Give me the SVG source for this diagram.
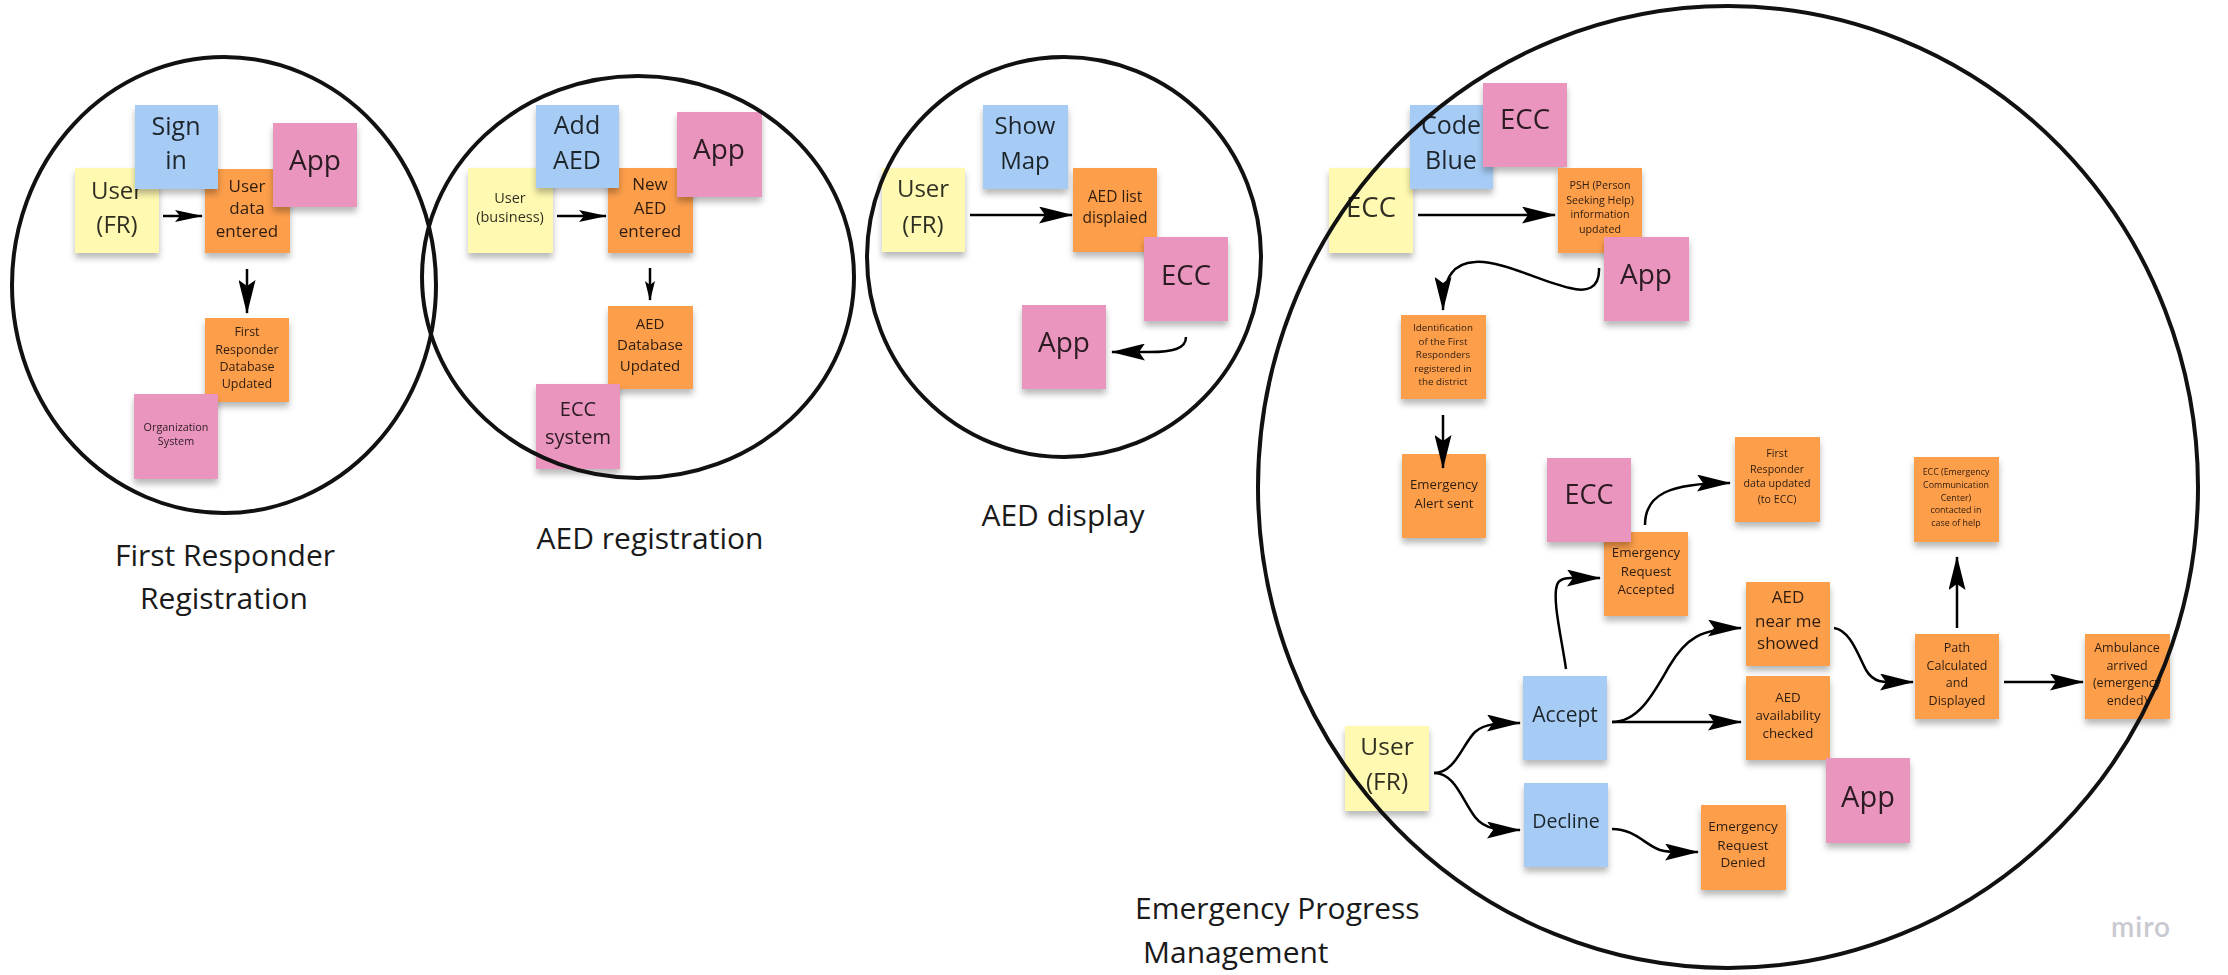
<svg xmlns="http://www.w3.org/2000/svg" width="2228" height="975" viewBox="0 0 2228 975">
<defs>
<style>
.st{stroke:none}
.y{fill:#fff9b1}.b{fill:#a6ccf5}.o{fill:#fd9e4c}.p{fill:#ea95bd}
text{font-family:"Open Sans","Liberation Sans",sans-serif;text-anchor:middle;fill:#000;fill-opacity:0.82}
.lbl{font-size:30px;fill:#1a1a1a;fill-opacity:1}
.ring{fill:none;stroke:#111;stroke-width:4}
.c{fill:none;stroke:#000;stroke-width:2.5}
</style>
<filter id="sh" x="-10%" y="-10%" width="120%" height="130%">
<feDropShadow dx="0" dy="5" stdDeviation="3" flood-color="#000" flood-opacity="0.28"/>
</filter>
<marker id="ab" markerUnits="userSpaceOnUse" markerWidth="34" markerHeight="17" refX="33" refY="8.5" orient="auto">
<path d="M0,0 L34,8.5 L0,17 L6,8.5 Z" fill="#000"/>
</marker>
<marker id="am" markerUnits="userSpaceOnUse" markerWidth="28" markerHeight="12" refX="27" refY="6" orient="auto">
<path d="M0,0 L28,6 L0,12 L5,6 Z" fill="#000"/>
</marker>
<marker id="as" markerUnits="userSpaceOnUse" markerWidth="20" markerHeight="10" refX="19" refY="5" orient="auto">
<path d="M0,0 L20,5 L0,10 L4,5 Z" fill="#000"/>
</marker>
</defs>
<rect width="2228" height="975" fill="#fff"/>

<!-- First Responder Registration -->
<g id="fr_user" filter="url(#sh)"><rect class="y" x="75" y="168" width="84" height="85"/><text x="117" y="199" font-size="24">User</text><text x="117" y="233" font-size="24">(FR)</text></g>
<g id="fr_data" filter="url(#sh)"><rect class="o" x="205" y="169" width="85" height="84"/><text x="247" y="192" font-size="17">User</text><text x="247" y="214" font-size="17">data</text><text x="247" y="237" font-size="17">entered</text></g>
<g id="fr_signin" filter="url(#sh)"><rect class="b" x="135" y="105" width="83" height="84"/><text x="176" y="135" font-size="25">Sign</text><text x="176" y="169" font-size="25">in</text></g>
<g id="fr_app" filter="url(#sh)"><rect class="p" x="273" y="123" width="84" height="84"/><text x="315" y="170" font-size="28">App</text></g>
<g id="fr_db" filter="url(#sh)"><rect class="o" x="205" y="318" width="84" height="84"/><text x="247" y="336" font-size="12.5">First</text><text x="247" y="354" font-size="12.5">Responder</text><text x="247" y="371" font-size="12.5">Database</text><text x="247" y="388" font-size="12.5">Updated</text></g>
<g id="fr_org" filter="url(#sh)"><rect class="p" x="134" y="394" width="84" height="85"/><text x="176" y="431" font-size="10.8">Organization</text><text x="176" y="445" font-size="10.8">System</text></g>

<!-- AED registration -->
<g id="aed_user" filter="url(#sh)"><rect class="y" x="468" y="168" width="85" height="85"/><text x="510" y="203" font-size="14.5">User</text><text x="510" y="222" font-size="14.5">(business)</text></g>
<g id="aed_new" filter="url(#sh)"><rect class="o" x="608" y="168" width="85" height="85"/><text x="650" y="190" font-size="17">New</text><text x="650" y="214" font-size="17">AED</text><text x="650" y="237" font-size="17">entered</text></g>
<g id="aed_add" filter="url(#sh)"><rect class="b" x="536" y="105" width="83" height="83"/><text x="577" y="134" font-size="25">Add</text><text x="577" y="169" font-size="25">AED</text></g>
<g id="aed_app" filter="url(#sh)"><rect class="p" x="677" y="112" width="85" height="85"/><text x="719" y="159" font-size="28">App</text></g>
<g id="aed_db" filter="url(#sh)"><rect class="o" x="608" y="306" width="85" height="83"/><text x="650" y="329" font-size="15">AED</text><text x="650" y="350" font-size="15">Database</text><text x="650" y="371" font-size="15">Updated</text></g>
<g id="aed_ecc" filter="url(#sh)"><rect class="p" x="536" y="384" width="84" height="85"/><text x="578" y="416" font-size="20">ECC</text><text x="578" y="444" font-size="20">system</text></g>

<!-- AED display -->
<g id="disp_user" filter="url(#sh)"><rect class="y" x="882" y="168" width="83" height="84"/><text x="923" y="197" font-size="24">User</text><text x="923" y="233" font-size="24">(FR)</text></g>
<g id="disp_show" filter="url(#sh)"><rect class="b" x="983" y="105" width="85" height="84"/><text x="1025" y="134" font-size="24">Show</text><text x="1025" y="169" font-size="24">Map</text></g>
<g id="disp_list" filter="url(#sh)"><rect class="o" x="1073" y="168" width="84" height="84"/><text x="1115" y="202" font-size="15.5">AED list</text><text x="1115" y="223" font-size="15.5">displaied</text></g>
<g id="disp_ecc" filter="url(#sh)"><rect class="p" x="1144" y="237" width="84" height="84"/><text x="1186" y="285" font-size="27.5">ECC</text></g>
<g id="disp_app" filter="url(#sh)"><rect class="p" x="1022" y="305" width="84" height="84"/><text x="1064" y="352" font-size="28">App</text></g>

<!-- Emergency Progress Management -->
<g id="em_ecc_user" filter="url(#sh)"><rect class="y" x="1329" y="168" width="84" height="85"/><text x="1371" y="217" font-size="27.5">ECC</text></g>
<g id="em_code" filter="url(#sh)"><rect class="b" x="1410" y="105" width="83" height="84"/><text x="1451" y="134" font-size="25">Code</text><text x="1451" y="169" font-size="25">Blue</text></g>
<g id="em_ecc_top" filter="url(#sh)"><rect class="p" x="1483" y="83" width="84" height="84"/><text x="1525" y="129" font-size="27.5">ECC</text></g>
<g id="em_psh" filter="url(#sh)"><rect class="o" x="1558" y="168" width="84" height="85"/><text x="1600" y="189" font-size="10.7">PSH (Person</text><text x="1600" y="204" font-size="10.7">Seeking Help)</text><text x="1600" y="218" font-size="10.7">information</text><text x="1600" y="233" font-size="10.7">updated</text></g>
<g id="em_app" filter="url(#sh)"><rect class="p" x="1604" y="237" width="85" height="84"/><text x="1646" y="284" font-size="28">App</text></g>
<g id="em_ident" filter="url(#sh)"><rect class="o" x="1401" y="315" width="85" height="84"/><text x="1443" y="331" font-size="9.8">Identification</text><text x="1443" y="345" font-size="9.8">of the First</text><text x="1443" y="358" font-size="9.8">Responders</text><text x="1443" y="372" font-size="9.8">registered in</text><text x="1443" y="385" font-size="9.8">the district</text></g>
<g id="em_alert" filter="url(#sh)"><rect class="o" x="1402" y="454" width="84" height="84"/><text x="1444" y="489" font-size="13.2">Emergency</text><text x="1444" y="508" font-size="13.2">Alert sent</text></g>
<g id="em_req" filter="url(#sh)"><rect class="o" x="1604" y="532" width="84" height="84"/><text x="1646" y="557" font-size="13.3">Emergency</text><text x="1646" y="576" font-size="13.3">Request</text><text x="1646" y="594" font-size="13.3">Accepted</text></g>
<g id="em_ecc_mid" filter="url(#sh)"><rect class="p" x="1547" y="458" width="84" height="84"/><text x="1589" y="504" font-size="27">ECC</text></g>
<g id="em_fr" filter="url(#sh)"><rect class="o" x="1735" y="437" width="85" height="85"/><text x="1777" y="457" font-size="10.7">First</text><text x="1777" y="473" font-size="10.7">Responder</text><text x="1777" y="487" font-size="10.7">data updated</text><text x="1777" y="503" font-size="10.7">(to ECC)</text></g>
<g id="em_contact" filter="url(#sh)"><rect class="o" x="1914" y="457" width="85" height="85"/><text x="1956" y="475" font-size="8.9">ECC (Emergency</text><text x="1956" y="488" font-size="8.9">Communication</text><text x="1956" y="501" font-size="8.9">Center)</text><text x="1956" y="513" font-size="8.9">contacted in</text><text x="1956" y="526" font-size="8.9">case of help</text></g>
<g id="em_near" filter="url(#sh)"><rect class="o" x="1746" y="582" width="84" height="84"/><text x="1788" y="603" font-size="17">AED</text><text x="1788" y="627" font-size="17">near me</text><text x="1788" y="649" font-size="17">showed</text></g>
<g id="em_avail" filter="url(#sh)"><rect class="o" x="1746" y="676" width="84" height="84"/><text x="1788" y="702" font-size="13.3">AED</text><text x="1788" y="720" font-size="13.3">availability</text><text x="1788" y="738" font-size="13.3">checked</text></g>
<g id="em_path" filter="url(#sh)"><rect class="o" x="1915" y="634" width="84" height="85"/><text x="1957" y="652" font-size="12.5">Path</text><text x="1957" y="670" font-size="12.5">Calculated</text><text x="1957" y="687" font-size="12.5">and</text><text x="1957" y="705" font-size="12.5">Displayed</text></g>
<g id="em_amb" filter="url(#sh)"><rect class="o" x="2085" y="634" width="85" height="85"/><text x="2127" y="652" font-size="12.5">Ambulance</text><text x="2127" y="670" font-size="12.5">arrived</text><text x="2127" y="687" font-size="12.5">(emergency</text><text x="2127" y="705" font-size="12.5">ended)</text></g>
<g id="em_user" filter="url(#sh)"><rect class="y" x="1345" y="726" width="84" height="85"/><text x="1387" y="755" font-size="24.5">User</text><text x="1387" y="790" font-size="24.5">(FR)</text></g>
<g id="em_accept" filter="url(#sh)"><rect class="b" x="1523" y="676" width="84" height="84"/><text x="1565" y="722" font-size="21">Accept</text></g>
<g id="em_decline" filter="url(#sh)"><rect class="b" x="1524" y="783" width="84" height="84"/><text x="1566" y="828" font-size="19.6">Decline</text></g>
<g id="em_denied" filter="url(#sh)"><rect class="o" x="1701" y="805" width="85" height="85"/><text x="1743" y="831" font-size="13.5">Emergency</text><text x="1743" y="850" font-size="13.5">Request</text><text x="1743" y="867" font-size="13.5">Denied</text></g>
<g id="em_app_b" filter="url(#sh)"><rect class="p" x="1826" y="758" width="84" height="85"/><text x="1868" y="807" font-size="29">App</text></g>

<!-- region outlines -->
<g id="regions">
<ellipse class="ring" cx="224" cy="285" rx="212" ry="228"/>
<ellipse class="ring" cx="638" cy="277" rx="216" ry="201"/>
<ellipse class="ring" cx="1064" cy="257" rx="197" ry="200"/>
<ellipse class="ring" cx="1728" cy="487" rx="470" ry="481"/>
</g>

<!-- connectors -->
<g id="connectors">
<path class="c" d="M163,216 L202,216" marker-end="url(#am)"/>
<path class="c" d="M247,269 L247,313" marker-end="url(#ab)"/>
<path class="c" d="M557,216 L606,216" marker-end="url(#am)"/>
<path class="c" d="M650,268 L650,300" marker-end="url(#as)"/>
<path class="c" d="M970,215 L1072,215" marker-end="url(#ab)"/>
<path class="c" d="M1186,337 C1186,349 1172,352 1150,352 L1112,352" marker-end="url(#ab)"/>
<path class="c" d="M1418,215 L1555,215" marker-end="url(#ab)"/>
<path class="c" d="M1599,268 C1600,290 1585,292 1570,288 C1540,281 1500,260 1475,262 C1455,263 1443,275 1443,310" marker-end="url(#ab)"/>
<path class="c" d="M1443,415 L1443,468" marker-end="url(#ab)"/>
<path class="c" d="M1645,525 C1645,495 1668,483 1730,483" marker-end="url(#ab)"/>
<path class="c" d="M1566,669 C1562,640 1552,600 1557,585 C1560,576 1570,578 1600,578" marker-end="url(#ab)"/>
<path class="c" d="M1612,722 C1640,722 1655,690 1670,665 C1685,640 1700,628 1741,628" marker-end="url(#ab)"/>
<path class="c" d="M1612,722 L1741,722" marker-end="url(#ab)"/>
<path class="c" d="M1834,628 C1850,630 1858,655 1866,670 C1875,685 1885,682 1913,682" marker-end="url(#ab)"/>
<path class="c" d="M1957,628 L1957,557" marker-end="url(#ab)"/>
<path class="c" d="M2004,682 L2083,682" marker-end="url(#ab)"/>
<path class="c" d="M1434,773 C1455,773 1462,745 1475,732 C1485,723 1500,723 1520,723" marker-end="url(#ab)"/>
<path class="c" d="M1434,773 C1455,773 1462,800 1475,817 C1485,830 1500,830 1520,830" marker-end="url(#ab)"/>
<path class="c" d="M1612,829 C1635,829 1645,845 1660,850 C1670,853 1680,852 1698,852" marker-end="url(#ab)"/>
</g>

<!-- region labels -->
<g id="labels">
<text class="lbl" x="225" y="566">First Responder</text>
<text class="lbl" x="224" y="609">Registration</text>
<text class="lbl" x="650" y="549">AED registration</text>
<text class="lbl" x="1063" y="526">AED display</text>
<text class="lbl" x="1135" y="919" style="text-anchor:start">Emergency Progress</text>
<text class="lbl" x="1143" y="963" style="text-anchor:start">Management</text>
</g>
<text x="2141" y="937" font-size="28" font-weight="600" letter-spacing="1" style="fill:#c9c9d1;fill-opacity:1;font-family:Lato,'Open Sans',sans-serif">miro</text>
</svg>
